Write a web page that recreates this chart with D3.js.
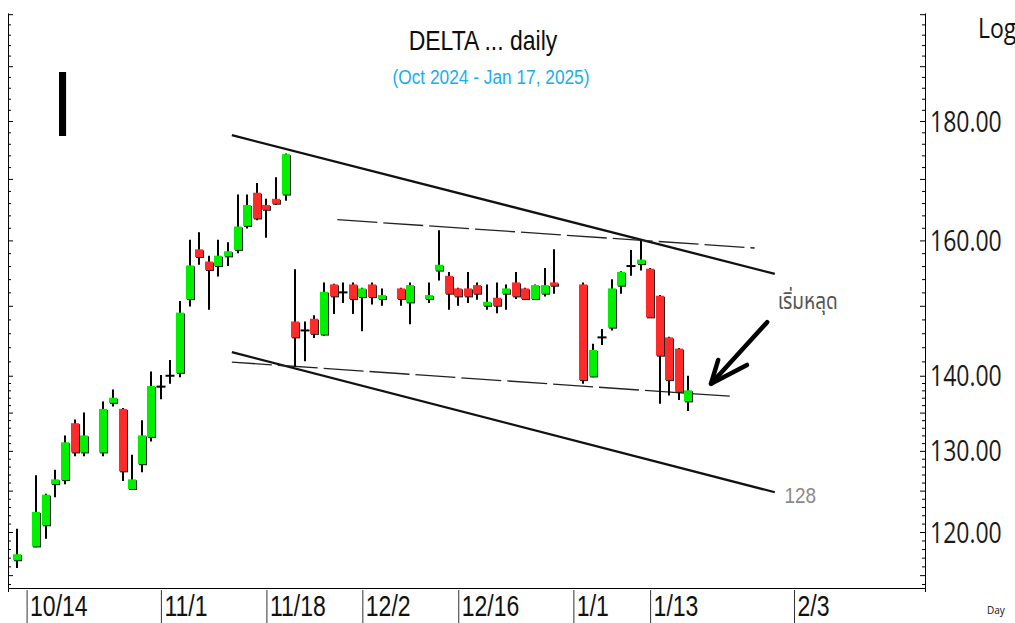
<!DOCTYPE html>
<html><head><meta charset="utf-8">
<script src="https://cdn.jsdelivr.net/npm/d3@7/dist/d3.min.js"></script>
<style>
html,body{margin:0;padding:0;background:#fff;}
svg{display:block;}
</style></head><body>
<svg id="c" width="1015" height="623"></svg>
<script>
// ---------- DATA ----------
const dates = ["2024-10-11","2024-10-15","2024-10-16","2024-10-17","2024-10-18","2024-10-21","2024-10-22","2024-10-24","2024-10-25",
"2024-10-28","2024-10-29","2024-10-30","2024-10-31","2024-11-01","2024-11-04","2024-11-05","2024-11-06","2024-11-07","2024-11-08",
"2024-11-11","2024-11-12","2024-11-13","2024-11-14","2024-11-15","2024-11-18","2024-11-19","2024-11-20","2024-11-21","2024-11-22",
"2024-11-25","2024-11-26","2024-11-27","2024-11-28","2024-11-29","2024-12-02","2024-12-03","2024-12-04","2024-12-06","2024-12-09",
"2024-12-11","2024-12-12","2024-12-13","2024-12-16","2024-12-17","2024-12-18","2024-12-19","2024-12-20","2024-12-23","2024-12-24",
"2024-12-25","2024-12-26","2024-12-27","2024-12-30","2025-01-02","2025-01-03","2025-01-06","2025-01-07","2025-01-08","2025-01-09",
"2025-01-10","2025-01-13","2025-01-14","2025-01-15","2025-01-16","2025-01-17"];
const opens  = [116.7,118.3,120.8,125.8,126.3,133.6,129.8,129.8,136.3,135.5,125.2,128.3,131.8,138.5,140.0,140.4,151.0,158.6,156.7,
156.0,157.5,158.5,162.3,167.7,165.7,166.7,167.4,147.7,146.4,148.1,145.8,153.2,152.0,153.2,151.3,153.2,151.0,152.6,150.5,
151.0,155.3,154.5,152.6,152.6,153.1,150.0,151.2,151.8,153.5,152.6,151.0,151.8,153.5,153.2,139.9,145.4,146.8,153.0,156.0,
156.3,155.6,151.5,145.4,143.8,136.5];
const highs  = [120.4,126.9,124.6,127.6,132.0,134.1,135.0,136.5,138.1,135.6,129.5,134.0,140.6,140.1,142.2,150.7,160.1,161.3,157.6,
160.1,159.7,167.4,167.4,169.3,166.7,170.3,174.3,155.5,147.7,148.6,153.5,153.3,153.5,153.5,152.7,153.5,152.6,152.7,153.5,
153.5,161.6,155.1,152.7,155.1,153.5,153.2,153.5,153.2,155.1,152.7,153.2,155.7,158.6,153.5,144.5,146.6,154.0,155.2,158.5,
160.0,155.7,151.6,145.5,143.9,140.0];
const lows   = [115.8,118.2,119.2,124.2,125.8,129.3,129.3,129.3,135.8,126.2,125.2,127.3,131.2,136.8,138.9,139.8,149.9,156.2,149.4,
154.4,156.0,158.0,161.9,163.2,160.4,165.7,166.4,141.3,142.0,145.3,145.6,148.8,150.4,148.8,146.3,150.2,150.0,150.0,147.3,
150.4,153.8,149.4,150.0,150.4,150.9,149.4,148.9,149.4,151.0,150.9,150.9,151.4,151.8,138.9,139.8,144.3,146.4,151.8,154.5,
155.3,148.2,136.2,137.3,136.7,135.2];
const closes = [117.4,122.4,124.5,126.4,131.1,129.8,132.0,135.5,137.0,127.4,126.4,132.0,138.6,138.5,140.0,149.0,156.1,157.4,155.4,
157.6,158.3,162.2,165.7,163.5,164.9,165.9,174.2,145.4,146.4,145.9,152.1,151.4,152.0,151.0,152.6,151.3,151.6,151.0,153.1,
151.6,156.2,151.8,151.4,151.4,151.8,150.6,150.0,152.6,151.4,151.0,153.1,153.1,153.0,139.4,143.6,145.4,152.6,155.1,156.0,
157.0,148.3,142.8,139.4,137.8,138.0];

const tickDates  = ["2024-10-14","2024-11-01","2024-11-18","2024-12-02","2024-12-16","2025-01-01","2025-01-13","2025-02-03"];
const tickLabels = ["10/14","11/1","11/18","12/2","12/16","1/1","1/13","2/3"];
const priceLabels = [120,130,140,160,180];

// trend lines: [weekday index, price]
const upperChannel  = [[21.4,177.5],[78.0,154.8]];
const lowerChannel  = [[21.4,143.3],[78.0,124.8]];
const upperDashed   = [[32.4,163.3],[75.9,158.8]];
const lowerDashed   = [[21.4,141.9],[73.3,137.2]];
const arrowShaft    = [[77.2,147.6],[71.35,138.9]];
const arrowHead     = [[72.1,142.2],[71.35,138.9],[75.1,141.5]];

// ---------- SCALES ----------
const base = new Date(2024,9,14);
function wd(s){
  const p = s.split("-").map(Number);
  const d = new Date(p[0],p[1]-1,p[2]);
  const days = d3.timeDay.count(base,d);
  const w = Math.floor(days/7), r = days - w*7;
  return w*5 + Math.min(r,5);
}
const L=8, R=925, T=13, B=588;
const xFit = d3.scaleLinear().domain([0,80]).range([26.6,794]);
const x = d3.scaleLinear().domain([xFit.invert(L), xFit.invert(R)]).range([L,R]);
const yFit = d3.scaleLog().domain([120,180]).range([532,121]);
const y = d3.scaleLog().domain([yFit.invert(B), yFit.invert(T)]).range([B,T]);

const svg = d3.select("#c");

// ---------- AXES ----------
const yMinor = d3.range(114,140,1).concat(d3.range(140,201,2));
const isMajor = v => (v<=140 && v%5===0) || (v>=140 && v%10===0);
const yMinorOnly = yMinor.filter(v=>!isMajor(v));
const yMajor = yMinor.filter(isMajor);

function styleAxis(g){
  g.selectAll("path,line").attr("stroke","#000").attr("stroke-width",1);
}
// left axis (ticks inside)
svg.append("g").attr("transform",`translate(${L},0)`)
  .call(d3.axisRight(y).tickValues(yMinorOnly).tickSize(3).tickSizeOuter(0).tickFormat(""))
  .call(styleAxis).call(g=>g.select(".domain").remove());
svg.append("g").attr("transform",`translate(${L},0)`)
  .call(d3.axisRight(y).tickValues(yMajor).tickSize(5).tickSizeOuter(0).tickFormat(""))
  .call(styleAxis);
// right axis
svg.append("g").attr("transform",`translate(${R},0)`)
  .call(d3.axisLeft(y).tickValues(yMinorOnly).tickSize(3).tickSizeOuter(0).tickFormat(""))
  .call(styleAxis).call(g=>g.select(".domain").remove());
svg.append("g").attr("transform",`translate(${R},0)`)
  .call(d3.axisLeft(y).tickValues(yMajor).tickSize(5).tickSizeOuter(0).tickFormat(""))
  .call(styleAxis);
// right labels
const sy = 1.25;
svg.append("g").attr("transform",`translate(${R},0)`)
  .call(d3.axisRight(y).tickValues(priceLabels).tickSize(0).tickPadding(5).tickFormat(d3.format(".2f")))
  .call(g=>g.select(".domain").remove())
  .call(g=>g.selectAll("text")
     .attr("dy",null).attr("y",10/sy).attr("transform",`scale(1,${sy})`)
     .attr("font-family","'Open Sans','Noto Sans',sans-serif").attr("font-size",23).attr("fill","#1a1a1a"));

// bottom axis
const sx = 1.3;
svg.append("g").attr("transform",`translate(0,${B})`)
  .call(d3.axisBottom(x).tickValues(tickDates.map(wd)).tickSize(35).tickSizeOuter(4)
        .tickFormat((d,i)=>tickLabels[i]))
  .call(styleAxis)
  .call(g=>g.selectAll(".tick line").attr("stroke","#333").attr("y1",2))
  .call(g=>g.selectAll("text").attr("text-anchor","start").attr("dy",null)
     .attr("x",3).attr("y",28/sx).attr("transform",`scale(1,${sx})`)
     .attr("font-family","'Liberation Sans',Arial,sans-serif").attr("font-size",23).attr("fill","#111"));

// ---------- TREND LINES ----------
const line = d3.line().x(d=>x(d[0])).y(d=>y(d[1]));
svg.append("path").attr("d",line(upperChannel)).attr("stroke","#111").attr("stroke-width",2.3).attr("fill","none");
svg.append("path").attr("d",line(lowerChannel)).attr("stroke","#111").attr("stroke-width",2.3).attr("fill","none");
svg.append("path").attr("d",line(upperDashed)).attr("stroke","#222").attr("stroke-width",1.3).attr("stroke-dasharray","40,6").attr("fill","none");
svg.append("path").attr("d",line(lowerDashed)).attr("stroke","#222").attr("stroke-width",1.3).attr("stroke-dasharray","40,6").attr("fill","none");

// ---------- CANDLES ----------
const data = dates.map((d,i)=>({i:wd(d),o:opens[i],h:highs[i],l:lows[i],c:closes[i]}));
const bw = 8;
const cg = svg.append("g");
data.forEach(d=>{
  const cx = Math.round(x(d.i));
  const g = cg.append("g");
  g.append("line").attr("x1",cx).attr("x2",cx).attr("y1",y(d.h)).attr("y2",y(d.l))
    .attr("stroke","#000").attr("stroke-width",2);
  if (d.o===d.c){
    g.append("line").attr("x1",cx-bw/2-0.5).attr("x2",cx+bw/2+0.5).attr("y1",y(d.o)).attr("y2",y(d.o))
      .attr("stroke","#000").attr("stroke-width",2);
  } else {
    const top = y(Math.max(d.o,d.c)), bot = y(Math.min(d.o,d.c));
    const h = Math.max(bot-top,3);
    g.append("rect").attr("x",cx-bw/2+1).attr("y",top+1).attr("width",bw).attr("height",h).attr("fill","#222");
    g.append("rect").attr("x",cx-bw/2).attr("y",top).attr("width",bw).attr("height",h)
      .attr("fill", d.c>d.o ? "#00f000" : "#ff2b2b");
  }
});

// ---------- ARROW ----------
svg.append("path").attr("d",line(arrowShaft)).attr("stroke","#000").attr("stroke-width",4.5)
  .attr("stroke-linecap","round").attr("fill","none");
svg.append("path").attr("d",line(arrowHead)).attr("stroke","#000").attr("stroke-width",4.5)
  .attr("stroke-linecap","round").attr("stroke-linejoin","round").attr("fill","none");

// ---------- TEXT ----------
function txt(xp,yp,s,opts){
  const t = svg.append("text").attr("transform",`translate(${xp},${yp}) scale(1,${opts.sy||1.2})`)
    .attr("font-family",opts.font||"'Liberation Sans',Arial,sans-serif")
    .attr("font-size",opts.size).attr("fill",opts.fill||"#000")
    .attr("text-anchor",opts.anchor||"start").text(s);
  return t;
}
txt(483,50,"DELTA ... daily",{size:23,anchor:"middle",fill:"#0d0d0d"});
txt(491,84,"(Oct 2024 - Jan 17, 2025)",{size:17.3,anchor:"middle",fill:"#19aef0"});
txt(52,136,"I",{size:76,sy:1.22,fill:"#000"});
txt(x(78.3),y(149.6),"เริ่มหลุด",{size:19,fill:"#555",font:"'Noto Sans Thai','Tahoma','Noto Sans',sans-serif"});
txt(x(79.0),y(123.5),"128",{size:19,fill:"#8a8a8a"});
txt(978,38,"Log",{size:23,fill:"#111",font:"'Open Sans','Noto Sans',sans-serif"});
txt(987,614,"Day",{size:10,sy:1.1,fill:"#111",font:"'Open Sans','Noto Sans',sans-serif"});
</script>
</body></html>
